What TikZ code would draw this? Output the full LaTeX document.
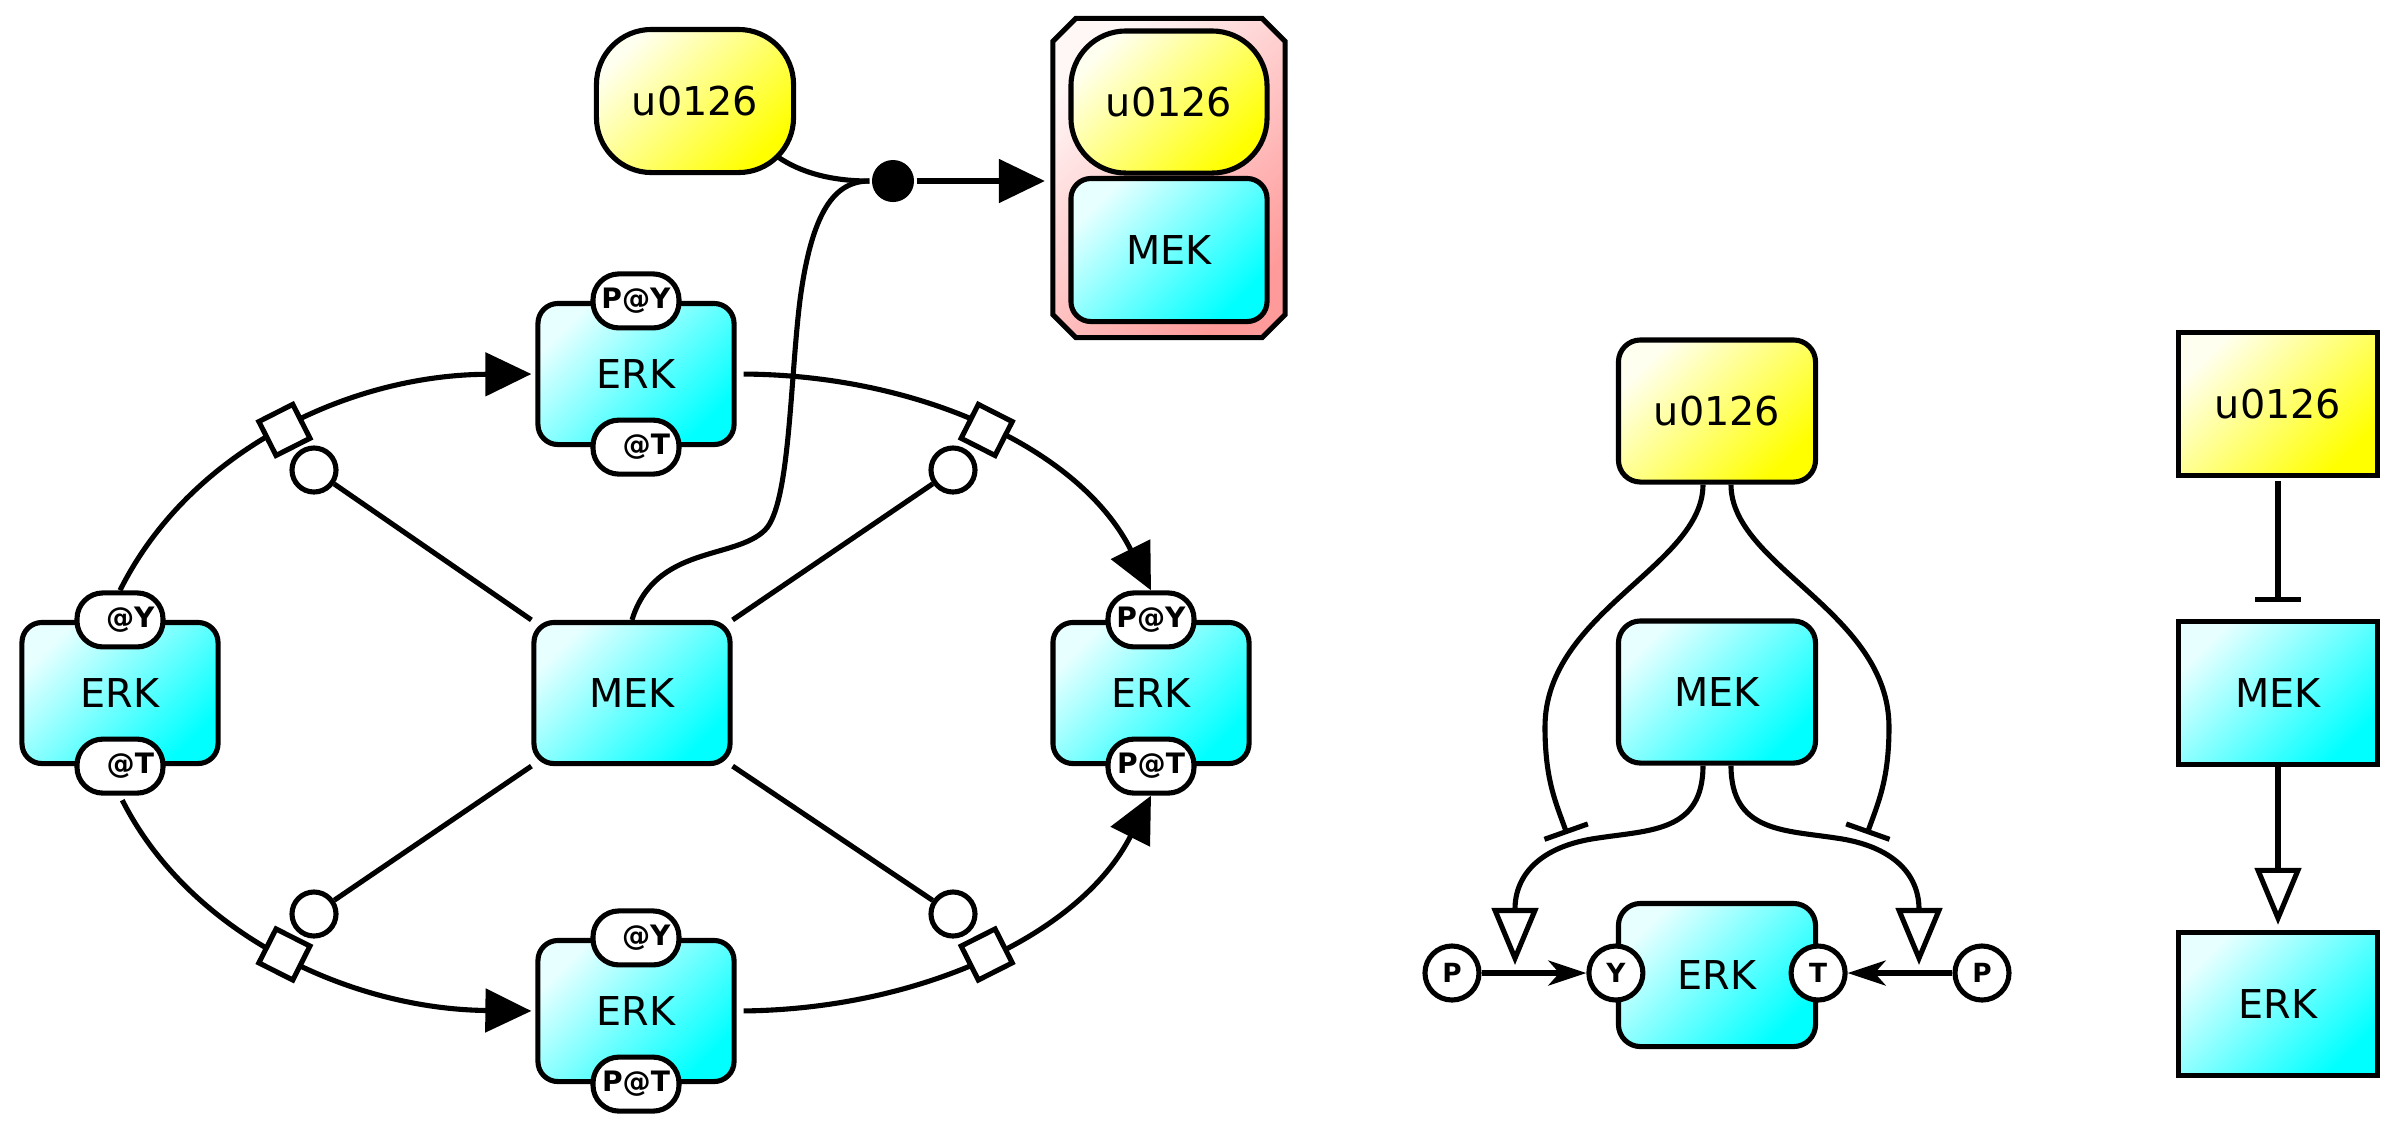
\documentclass[tikz,border=0pt]{standalone}
\usepackage{fontspec}
\setmainfont{DejaVu Sans}
\usetikzlibrary{arrows.meta,shapes.misc,shapes.geometric,calc}
\definecolor{cyanL}{HTML}{E8FFFF}
\definecolor{cyanD}{HTML}{00FFFF}
\definecolor{yelL}{HTML}{FFFFF0}
\definecolor{yelD}{HTML}{FFFF00}
\definecolor{pinkL}{HTML}{FFF6F6}
\definecolor{pinkD}{HTML}{FF9A9A}
\begin{document}
\begin{tikzpicture}[x=0.01cm,y=-0.01cm,line width=1.45pt,
  box/.style={draw, line width=1.45pt, inner sep=0pt, font=\fontsize{11.3}{13}\selectfont},
  cyanbox/.style={box, top color=cyanL, bottom color=cyanD, shading angle=45},
  yelbox/.style={box, top color=yelL, bottom color=yelD, shading angle=45},
  cplxfill/.style={draw, line width=1.45pt, top color=pinkL, bottom color=pinkD, shading angle=45},
  bw/.style={minimum width=1.96cm, minimum height=1.41cm},
  sv/.style={draw, fill=white, rectangle, rounded corners=0.26cm, minimum width=0.86cm,
     minimum height=0.54cm, inner sep=0pt, font=\bfseries\fontsize{8}{9}\selectfont},
  sc/.style={draw, fill=white, circle, minimum size=0.54cm, inner sep=0pt,
     font=\bfseries\fontsize{7.5}{8}\selectfont},
  cat/.style={draw, fill=white, circle, minimum size=0.44cm, inner sep=0pt},
  proc/.style={draw, fill=white, rectangle, minimum size=0.38cm, inner sep=0pt, sloped},
  assocdot/.style={fill=black, circle, minimum size=0.42cm, inner sep=0pt},
  conn/.style={draw, line width=1.45pt},
  fwd/.style={-{Triangle[length=0.46cm,width=0.43cm]}},
  stim/.style={-{Triangle[open,length=0.57cm,width=0.46cm]}},
  inh/.style={-{Bar[width=0.46cm]}},
  conv/.style={-{Stealth[length=0.38cm,width=0.25cm,inset=0.11cm]}}
]
\useasboundingbox (0,0) rectangle (2399,1132);

% ---------- panel 1 ----------
\node[yelbox, rounded corners=0.55cm, minimum width=1.97cm, minimum height=1.43cm] (u1) at (695,101) {u0126};
\node[minimum width=2.27cm, minimum height=3.14cm, inner sep=0pt] (cx) at (1169,178) {};
\path[cplxfill] ($(cx.north west)+(23,0)$) -- ($(cx.north east)+(-23,0)$) -- ($(cx.north east)+(0,23)$)
  -- ($(cx.south east)+(0,-23)$) -- ($(cx.south east)+(-23,0)$) -- ($(cx.south west)+(23,0)$)
  -- ($(cx.south west)+(0,-23)$) -- ($(cx.north west)+(0,23)$) -- cycle;
\node[yelbox, rounded corners=0.55cm, minimum width=1.96cm, minimum height=1.42cm] (u1c) at (1169,102) {u0126};
\node[cyanbox, rounded corners=0.2cm, minimum width=1.96cm, minimum height=1.43cm] (m1c) at (1169,250) {MEK};
\node[assocdot] (as) at (893,181) {};

\node[cyanbox, rounded corners=0.2cm, bw] (m1) at (632,693) {MEK};
\node[cyanbox, rounded corners=0.2cm, bw] (et) at (636,374) {ERK};
\node[cyanbox, rounded corners=0.2cm, bw] (el) at (120,693) {ERK};
\node[cyanbox, rounded corners=0.2cm, bw] (er) at (1151,693) {ERK};
\node[cyanbox, rounded corners=0.2cm, bw] (eb) at (636,1011) {ERK};

\node[sv] (et-y) at (et.north) {P@Y};
\node[sv] (et-t) at (et.south) {\phantom{P}@T};
\node[sv] (el-y) at (el.north) {\phantom{P}@Y};
\node[sv] (el-t) at (el.south) {\phantom{P}@T};
\node[sv] (er-y) at (er.north) {P@Y};
\node[sv] (er-t) at (er.south) {P@T};
\node[sv] (eb-y) at (eb.north) {\phantom{P}@Y};
\node[sv] (eb-t) at (eb.south) {P@T};

\node[cat] (c1) at (314,470) {};
\node[cat] (c2) at (953,470) {};
\node[cat] (c3) at (314,914) {};
\node[cat] (c4) at (953,914) {};

\draw[conn] (m1.north west) -- (c1);
\draw[conn] (m1.north east) -- (c2);
\draw[conn] (m1.south west) -- (c3);
\draw[conn] (m1.south east) -- (c4);

\draw[conn, fwd, shorten >=0.04cm] (el-y.north) .. controls (190,450) and (350,375) .. (et.west)
  node[proc, pos=0.5] (p1) {};
\draw[conn, fwd, shorten <=0.07cm] (et.east) .. controls (921,375) and (1081,450) .. (er-y.north)
  node[proc, pos=0.5] (p2) {};
\draw[conn, fwd, shorten <=0.05cm, shorten >=0.04cm] (el-t.south) .. controls (190,934) and (350,1009) .. (eb.west)
  node[proc, pos=0.5] (p3) {};
\draw[conn, fwd, shorten <=0.07cm] (eb.east) .. controls (921,1009) and (1081,934) .. (er-t.south)
  node[proc, pos=0.5] (p4) {};

\draw[conn] ($(u1.south east)+(-18,-18)$) .. controls (800,172) and (830,181) .. (as.west);
\draw[conn] (m1.north) .. controls (655,545) and (735,560) .. (765,530)
  .. controls (790,505) and (790,380) .. (800,300)
  .. controls (812,210) and (835,181) .. (as.west);
\draw[conn, fwd, shorten >=0.08cm] (as.east) -- (as.east -| cx.west);

% ---------- panel 2 ----------
\node[yelbox, rounded corners=0.22cm, minimum width=1.97cm, minimum height=1.42cm] (u2) at (1717,411) {u0126};
\node[cyanbox, rounded corners=0.22cm, minimum width=1.97cm, minimum height=1.42cm] (m2) at (1717,692) {MEK};
\node[cyanbox, rounded corners=0.22cm, minimum width=1.97cm, minimum height=1.43cm] (e2) at (1717,975) {ERK};
\node[sc] (y2) at ($(e2.west)+(0,-2)$) {Y};
\node[sc] (t2) at ($(e2.east)+(0,-2)$) {T};
\node[sc] (pl) at (1452,973) {P};
\node[sc] (pr) at (1982,973) {P};
\draw[conn, conv] (pl) -- (y2);
\draw[conn, conv] (pr) -- (t2);

\coordinate (bl) at (1567,834);
\coordinate (br) at (1867,834);
\coordinate (tl) at (1515,965);
\coordinate (tr) at (1919,965);

\draw[conn, inh] ($(u2.south)+(-14,0)$) .. controls (1703,566) and (1545,612) .. (1545,727)
  .. controls (1545,780) and (1556,803) .. (bl);
\draw[conn, inh] ($(u2.south)+(14,0)$) .. controls (1731,566) and (1889,612) .. (1889,727)
  .. controls (1889,780) and (1878,803) .. (br);
\draw[conn, stim] ($(m2.south)+(-14,0)$) .. controls (1703,832) and (1650,830) .. (1598,838)
  .. controls (1540,846) and (1515,875) .. (tl);
\draw[conn, stim] ($(m2.south)+(14,0)$) .. controls (1731,832) and (1784,830) .. (1836,838)
  .. controls (1894,846) and (1919,875) .. (tr);

% ---------- panel 3 ----------
\node[yelbox, minimum width=1.99cm, minimum height=1.43cm] (u3) at (2278,404) {u0126};
\node[cyanbox, minimum width=1.99cm, minimum height=1.43cm] (m3) at (2278,693) {MEK};
\node[cyanbox, minimum width=1.99cm, minimum height=1.43cm] (e3) at (2278,1004) {ERK};
\draw[conn, inh, shorten >=0.17cm, shorten <=0.03cm] (u3) -- (m3);
\draw[conn, stim, shorten >=0.05cm] (m3) -- (e3);
\end{tikzpicture}
\end{document}
